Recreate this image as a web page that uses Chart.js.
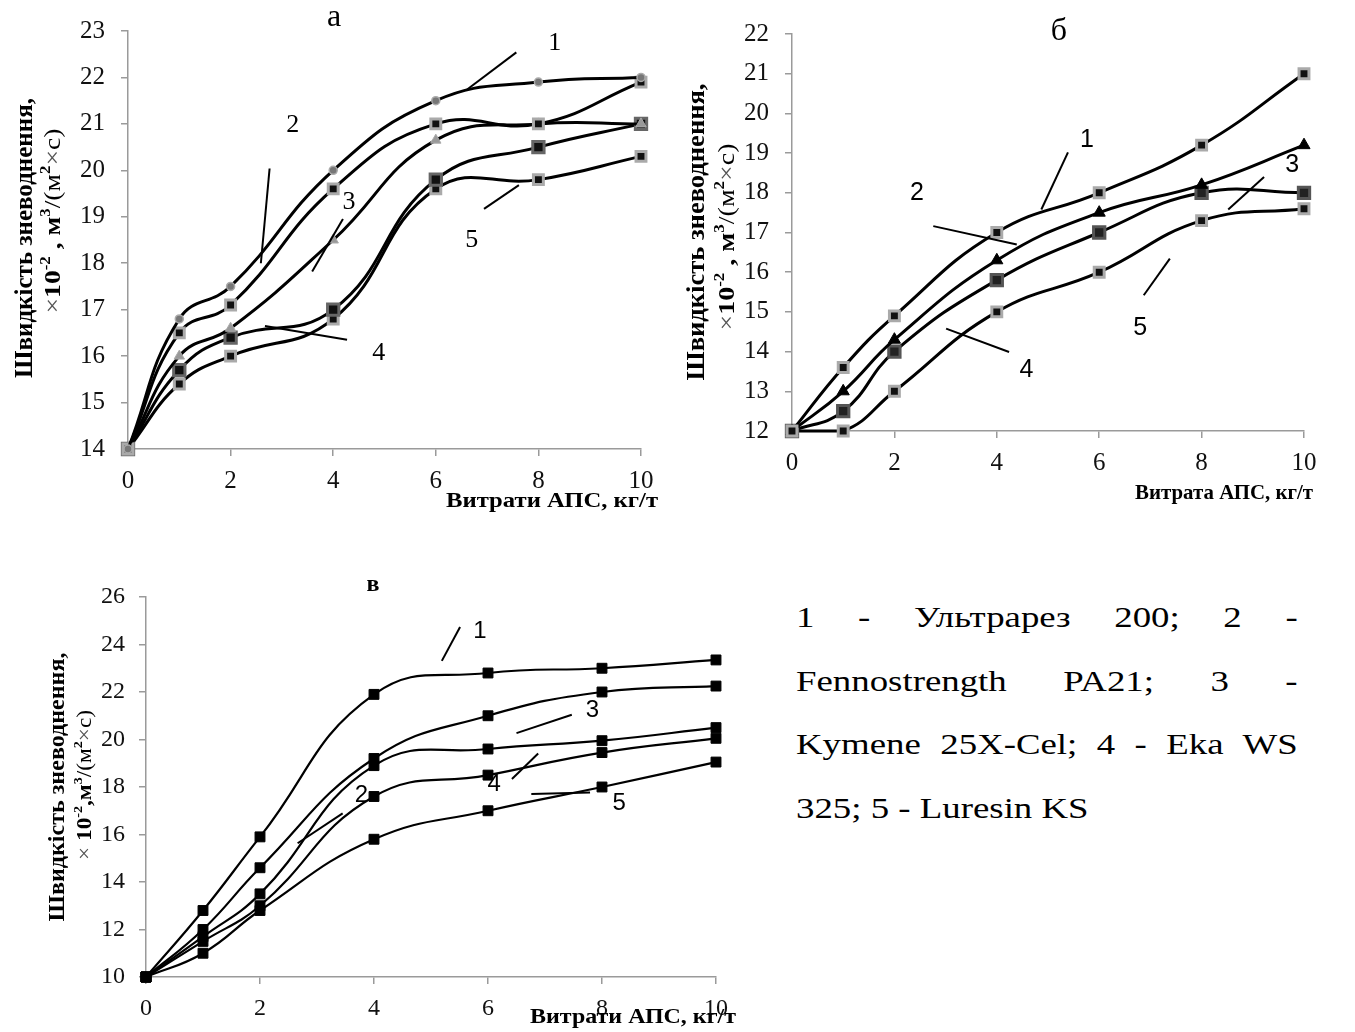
<!DOCTYPE html>
<html>
<head>
<meta charset="utf-8">
<script src="https://cdn.jsdelivr.net/npm/chart.js@4.4.0/dist/chart.umd.min.js"></script>
<style>
  body { margin: 0; background: #fff; width: 1355px; height: 1032px; position: relative; overflow: hidden; }
  canvas { position: absolute; }
  #legend { position: absolute; left: 796px; top: 586px; width: 395px; transform: scaleX(1.27); transform-origin: 0 0;
            font: 29px "Liberation Serif", serif; line-height: 63.5px; color: #000; white-space: nowrap; }
  .jl { text-align: justify; text-align-last: justify; }
</style>
</head>
<body>
<canvas id="chartA" width="680" height="525" style="left:0;top:0"></canvas>
<canvas id="chartB" width="675" height="525" style="left:680px;top:0"></canvas>
<canvas id="chartC" width="760" height="472" style="left:0;top:560px"></canvas>
<div id="legend">
  <div class="jl">1 - Ультрарез 200; 2 -</div>
  <div class="jl">Fennostrength PA21; 3 -</div>
  <div class="jl">Kymene 25X-Cel; 4 - Eka WS</div>
  <div>325; 5 - Luresin KS</div>
</div>
<script>
// витрата АПС, кг/т
const doseX = [0, 1, 2, 4, 6, 8, 10];
const xTicks = [0, 2, 4, 6, 8, 10];

// а
const seriesA1 = [14, 16.8, 17.5, 20.0, 21.5, 21.9, 22.0];
const seriesA2 = [14, 16.5, 17.1, 19.6, 21.0, 21.0, 21.9];
const seriesA3 = [14, 16.0, 16.6, 18.5, 20.65, 21.0, 21.0];
const seriesA4 = [14, 15.7, 16.4, 17.0, 19.8, 20.5, 21.0];
const seriesA5 = [14, 15.4, 16.0, 16.8, 19.6, 19.8, 20.3];
const yTicksA = [14, 15, 16, 17, 18, 19, 20, 21, 22, 23];

// б
const seriesB1 = [12, 13.6, 14.9, 17.0, 18.0, 19.2, 21.0];
const seriesB2 = [12, 13.0, 14.3, 16.3, 17.5, 18.2, 19.2];
const seriesB3 = [12, 12.5, 14.0, 15.8, 17.0, 18.0, 18.0];
const seriesB4 = [12, 12.0, 13.0, 15.0, 16.0, 17.3, 17.6];
const yTicksB = [12, 13, 14, 15, 16, 17, 18, 19, 20, 21, 22];

// в
const seriesC1 = [10, 12.8, 15.9, 21.9, 22.8, 23.0, 23.35];
const seriesC2 = [10, 12.0, 14.6, 19.2, 21.0, 22.0, 22.25];
const seriesC3 = [10, 11.7, 13.5, 18.9, 19.6, 19.95, 20.5];
const seriesC4 = [10, 11.5, 13.0, 17.6, 18.5, 19.45, 20.05];
const seriesC5 = [10, 11.0, 12.8, 15.8, 17.0, 18.0, 19.05];
const yTicksC = [10, 12, 14, 16, 18, 20, 22, 24, 26];

// номери кривих з виносками (в одиницях осей)
const calloutsA = [
  { n: "1", at: [8.32, 22.73], from: [7.57, 22.54], to: [6.61, 21.74] },
  { n: "2", at: [3.21, 20.98], from: [2.76, 20.04], to: [2.59, 18.0] },
  { n: "3", at: [4.31, 19.32], from: [4.19, 18.95], to: [3.59, 17.82] },
  { n: "4", at: [4.89, 16.06], from: [2.67, 16.65], to: [4.27, 16.35] },
  { n: "5", at: [6.70, 18.50], from: [7.62, 19.68], to: [6.94, 19.17] },
];
const calloutsB = [
  { n: "1", at: [5.76, 19.32], from: [5.39, 19.02], to: [4.87, 17.58] },
  { n: "2", at: [2.44, 18.0], from: [2.76, 17.16], to: [4.39, 16.70] },
  { n: "3", at: [9.77, 18.69], from: [9.22, 18.40], to: [8.52, 17.58] },
  { n: "4", at: [4.58, 13.53], from: [3.01, 14.58], to: [4.24, 13.99] },
  { n: "5", at: [6.80, 14.58], from: [7.38, 16.34], to: [6.87, 15.42] },
];
const calloutsC = [
  { n: "1", at: [5.86, 24.57], from: [5.51, 24.74], to: [5.19, 23.31] },
  { n: "2", at: [3.78, 17.63], from: [3.45, 16.89], to: [2.66, 15.63] },
  { n: "3", at: [7.83, 21.23], from: [7.47, 21.04], to: [6.50, 20.27] },
  { n: "4", at: [6.11, 18.10], from: [6.88, 19.41], to: [6.42, 18.34] },
  { n: "5", at: [8.30, 17.31], from: [6.76, 17.71], to: [7.79, 17.77] },
];

const SERIF = '"Liberation Serif", "Times New Roman", serif';
const SANS = '"Liberation Sans", Arial, sans-serif';

function series(values, st) {
  return {
    data: doseX.map((x, i) => ({ x: x, y: values[i] })),
    borderColor: "#000",
    borderWidth: st.lw,
    tension: 0.45,
    fill: false,
    clip: false,
    pointStyle: st.ps,
    pointRadius: st.r,
    pointHoverRadius: st.r,
    pointBackgroundColor: st.bg,
    pointBorderColor: st.bc,
    pointBorderWidth: st.bw,
  };
}

// rich text: [text, bold, superscript, colour]
function drawRich(ctx, parts, size, len) {
  const fontOf = (p) => (p[1] ? "bold " : "") + (p[2] ? Math.round(size * 0.62) : size) + "px " + SERIF;
  let total = 0;
  parts.forEach((p) => { ctx.font = fontOf(p); total += ctx.measureText(p[0]).width; });
  if (len) ctx.scale(len / total, 1);
  let x = -total / 2;
  ctx.textAlign = "left";
  ctx.textBaseline = "middle";
  parts.forEach((p) => {
    ctx.font = fontOf(p);
    ctx.fillStyle = p[3] || "#000";
    ctx.fillText(p[0], x, p[2] ? -size * 0.33 : 0);
    x += ctx.measureText(p[0]).width;
  });
}

const decor = {
  id: "decor",
  afterDatasetsDraw(chart, args, o) {
    const ctx = chart.ctx;
    const xs = chart.scales.x;
    const ys = chart.scales.y;
    ctx.save();
    ctx.strokeStyle = "#000";
    ctx.fillStyle = "#000";
    ctx.lineWidth = o.calloutWidth;
    o.callouts.forEach((c) => {
      ctx.beginPath();
      ctx.moveTo(xs.getPixelForValue(c.from[0]), ys.getPixelForValue(c.from[1]));
      ctx.lineTo(xs.getPixelForValue(c.to[0]), ys.getPixelForValue(c.to[1]));
      ctx.stroke();
      ctx.font = o.numFont;
      ctx.textAlign = "center";
      ctx.textBaseline = "middle";
      ctx.fillText(c.n, xs.getPixelForValue(c.at[0]), ys.getPixelForValue(c.at[1]));
    });

    // назва панелі
    ctx.font = o.letter.font;
    ctx.textAlign = "center";
    ctx.textBaseline = "middle";
    ctx.fillText(o.letter.text, o.letter.x, o.letter.y);

    // підпис осі X, розтягнутий до потрібної ширини
    ctx.save();
    ctx.font = o.xTitle.font;
    ctx.textAlign = "left";
    const w = ctx.measureText(o.xTitle.text).width;
    ctx.translate(o.xTitle.x, o.xTitle.y);
    ctx.scale(o.xTitle.len / w, 1);
    ctx.fillText(o.xTitle.text, 0, 0);
    ctx.restore();

    // підпис осі Y, два рядки
    o.yTitle.forEach((line) => {
      ctx.save();
      ctx.translate(line.x, line.y);
      ctx.rotate(-Math.PI / 2);
      drawRich(ctx, line.parts, line.size, line.len);
      ctx.restore();
    });
    ctx.restore();
  },
};

function axes(yTicks, yMin, yMax, yW, xH, yPad, xPad, fontSize) {
  const gridStyle = { drawOnChartArea: false, drawTicks: true, tickLength: 7, color: "#9a9a9a", lineWidth: 1.5 };
  return {
    x: {
      type: "linear", min: 0, max: 10,
      afterBuildTicks: (s) => { s.ticks = xTicks.map((v) => ({ value: v })); },
      afterFit: (s) => { s.height = xH; },
      grid: gridStyle,
      border: { color: "#9a9a9a", width: 1.5 },
      ticks: { color: "#111", padding: xPad, font: { family: SERIF, size: fontSize } },
    },
    y: {
      type: "linear", min: yMin, max: yMax,
      afterBuildTicks: (s) => { s.ticks = yTicks.map((v) => ({ value: v })); },
      afterFit: (s) => { s.width = yW; },
      grid: gridStyle,
      border: { color: "#9a9a9a", width: 1.5 },
      ticks: { color: "#111", padding: yPad, font: { family: SERIF, size: fontSize } },
    },
  };
}

const line2parts = [
  ["×", false, false, "#555"], ["10", true, false], ["-2", true, true], [" , ", true, false],
  ["м", true, false], ["3", true, true], ["/(м", false, false], ["2", true, true],
  ["×", false, false, "#555"], ["с)", false, false],
];

const markA = [
  { lw: 3, ps: "circle", r: 4, bg: "#777", bc: "#aaa", bw: 1.5 },
  { lw: 3, ps: "rect", r: 7, bg: "#111", bc: "#aaa", bw: 3 },
  { lw: 3, ps: "triangle", r: 6, bg: "#999", bc: "#aaa", bw: 1 },
  { lw: 3, ps: "rect", r: 8, bg: "#111", bc: "#666", bw: 3 },
  { lw: 3, ps: "rect", r: 7, bg: "#111", bc: "#aaa", bw: 3 },
];
const markB = [
  { lw: 3, ps: "rect", r: 7, bg: "#111", bc: "#aaa", bw: 3 },
  { lw: 3, ps: "triangle", r: 7, bg: "#000", bc: "#000", bw: 1 },
  { lw: 3, ps: "rect", r: 8, bg: "#222", bc: "#555", bw: 3 },
  { lw: 3, ps: "rect", r: 7, bg: "#111", bc: "#aaa", bw: 3 },
];
const markC = { lw: 2.2, ps: "rect", r: 7, bg: "#000", bc: "#000", bw: 1 };

const common = {
  responsive: false,
  animation: false,
  events: [],
  plugins: { legend: { display: false }, tooltip: { enabled: false } },
};

new Chart(document.getElementById("chartA"), {
  type: "line",
  data: { datasets: [seriesA1, seriesA2, seriesA3, seriesA4, seriesA5].map((s, i) => series(s, markA[i])) },
  options: {
    ...common,
    layout: { padding: { left: 0, top: 31, right: 39, bottom: 0 } },
    scales: axes(yTicksA, 14, 23, 128, 76, 16, 10, 25),
    plugins: {
      ...common.plugins,
      decor: {
        callouts: calloutsA, calloutWidth: 2, numFont: "26px " + SERIF,
        letter: { text: "а", x: 334, y: 18, font: "32px " + SERIF },
        xTitle: { text: "Витрати АПС, кг/т", x: 446, y: 501, len: 212, font: "bold 22px " + SERIF },
        yTitle: [
          { x: 25, y: 238, size: 26, len: 280, parts: [["Швидкість зневоднення,", true, false]] },
          { x: 54, y: 221, size: 23, len: 185, parts: line2parts },
        ],
      },
    },
  },
  plugins: [decor],
});

new Chart(document.getElementById("chartB"), {
  type: "line",
  data: { datasets: [seriesB1, seriesB2, seriesB3, seriesB4].map((s, i) => series(s, markB[i])) },
  options: {
    ...common,
    layout: { padding: { left: 0, top: 34, right: 51, bottom: 0 } },
    scales: axes(yTicksB, 12, 22, 112, 94, 16, 10, 25),
    plugins: {
      ...common.plugins,
      decor: {
        callouts: calloutsB, calloutWidth: 2, numFont: "25px " + SANS,
        letter: { text: "б", x: 379, y: 32, font: "32px " + SERIF },
        xTitle: { text: "Витрата АПС, кг/т", x: 455, y: 493, len: 178, font: "bold 22px " + SERIF },
        yTitle: [
          { x: 17, y: 232, size: 26, len: 297, parts: [["Швидкість зневоднення,", true, false]] },
          { x: 48, y: 237, size: 23, len: 187, parts: line2parts },
        ],
      },
    },
  },
  plugins: [decor],
});

new Chart(document.getElementById("chartC"), {
  type: "line",
  data: { datasets: [seriesC1, seriesC2, seriesC3, seriesC4, seriesC5].map((s) => series(s, markC)) },
  options: {
    ...common,
    layout: { padding: { left: 0, top: 37, right: 44, bottom: 0 } },
    scales: axes(yTicksC, 10, 26, 146, 55, 14, 10, 24),
    plugins: {
      ...common.plugins,
      decor: {
        callouts: calloutsC, calloutWidth: 2, numFont: "24px " + SANS,
        letter: { text: "в", x: 373, y: 25, font: "bold 24px " + SERIF },
        xTitle: { text: "Витрати АПС, кг/т", x: 530, y: 457, len: 206, font: "bold 22px " + SERIF },
        yTitle: [
          { x: 58, y: 227, size: 23, len: 269, parts: [["Швидкість зневоднення,", true, false]] },
          { x: 86, y: 225, size: 20, len: 150, parts: [
            ["×", false, false, "#555"], [" 10", true, false], ["-2", true, true], [",м", true, false],
            ["3", true, true], ["/(м", false, false], ["2", true, true], ["×", false, false, "#555"], ["с)", false, false],
          ] },
        ],
      },
    },
  },
  plugins: [decor],
});
</script>
</body>
</html>
